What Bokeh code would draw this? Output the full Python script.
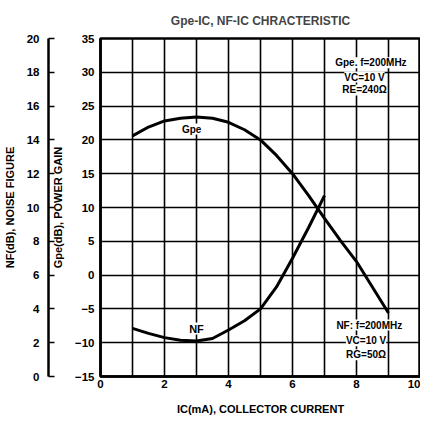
from bokeh.plotting import figure
from bokeh.models import (LinearAxis, Range1d, FixedTicker, Label, Title)
from bokeh.embed import file_html
from bokeh.resources import INLINE

# ---- data ----
ic_gpe = [1, 1.5, 2, 2.5, 3, 3.5, 4, 4.5, 5, 5.5, 6, 6.5, 7, 7.5, 8, 8.5, 9]
gpe = [20.6, 21.9, 22.8, 23.2, 23.4, 23.2, 22.6, 21.5, 20.0, 17.7, 15.0,
       11.8, 8.4, 5.1, 2.0, -1.8, -5.6]
ic_nf = [1, 1.5, 2, 2.5, 3, 3.5, 4, 4.5, 5, 5.5, 6, 6.5, 7]
nf = [2.85, 2.55, 2.3, 2.15, 2.1, 2.25, 2.75, 3.3, 4.0, 5.3, 7.0, 8.8, 10.7]

x_ticks = [0, 2, 4, 6, 8, 10]
x_grid = [0, 1, 2, 3, 4, 5, 6, 7, 8, 9, 10]
gpe_ticks = [-15, -10, -5, 0, 5, 10, 15, 20, 25, 30, 35]
nf_ticks = [0, 2, 4, 6, 8, 10, 12, 14, 16, 18, 20]

FONT = "Liberation Sans"

p = figure(width=420, height=417, output_backend="svg", toolbar_location=None,
           x_range=Range1d(0, 10), y_range=Range1d(-15, 35),
           min_border_left=88, min_border_right=0, min_border_top=10,
           min_border_bottom=40)
p.extra_y_ranges = {"nf": Range1d(0, 20)}

p.title = Title(text="Gpe-IC, NF-IC CHRACTERISTIC", align="center",
                text_font=FONT, text_font_size="12px", text_font_style="bold",
                offset=0, standoff=22)

p.outline_line_color = "black"
p.outline_line_width = 2.5
p.background_fill_color = "white"
p.border_fill_color = "white"

# grids
p.xgrid.ticker = FixedTicker(ticks=x_grid)
p.ygrid.ticker = FixedTicker(ticks=gpe_ticks)
for g in (p.xgrid, p.ygrid):
    g.grid_line_color = "black"
    g.grid_line_width = 1.6

# x axis
xa = p.xaxis[0]
xa.ticker = FixedTicker(ticks=x_ticks)
xa.axis_label = "IC(mA), COLLECTOR CURRENT"
xa.major_tick_in = 0
xa.major_tick_out = 0
xa.minor_tick_in = 0
xa.minor_tick_out = 0
xa.axis_line_width = 2.5
xa.major_label_standoff = 3
xa.axis_label_standoff = 12

# Gpe axis (inner left)
ya = p.yaxis[0]
ya.ticker = FixedTicker(ticks=gpe_ticks)
ya.axis_label = "Gpe(dB), POWER GAIN"
ya.major_tick_in = 0
ya.major_tick_out = 0
ya.minor_tick_in = 0
ya.minor_tick_out = 0
ya.axis_line_width = 2.5
ya.major_label_standoff = 6
ya.axis_label_standoff = 8

# NF axis (outer left)
na = LinearAxis(y_range_name="nf", ticker=FixedTicker(ticks=nf_ticks),
                axis_label="NF(dB), NOISE FIGURE")
na.major_tick_in = 6
na.major_tick_out = 0
na.minor_tick_in = 0
na.minor_tick_out = 0
na.axis_line_width = 2.5
na.major_tick_line_width = 1.5
na.major_label_standoff = 9
na.axis_label_standoff = 8
p.add_layout(na, "left")

for ax in (xa, ya, na):
    ax.major_label_text_font = FONT
    ax.major_label_text_font_size = "11.5px"
    ax.major_label_text_font_style = "bold"
    ax.major_label_text_color = "black"
    ax.axis_label_text_font = FONT
    ax.axis_label_text_font_size = "11px"
    ax.axis_label_text_font_style = "bold"
    ax.axis_label_text_color = "black"
    ax.axis_line_color = "black"
    ax.major_tick_line_color = "black"

# curves
p.line(ic_gpe, gpe, line_color="black", line_width=3)
p.line(ic_nf, nf, y_range_name="nf", line_color="black", line_width=3)

# curve labels
lab_kw = dict(text_font=FONT, text_font_size="10px", text_font_style="bold",
              text_color="black", text_align="center", text_baseline="middle")
p.add_layout(Label(x=2.85, y=21.6, text="Gpe", background_fill_color="white",
                   **lab_kw))
p.add_layout(Label(x=3.0, y=-7.9, text="NF", background_fill_color="white",
                   **dict(lab_kw, text_font_size="11px")))

# condition notes
note_kw = dict(text_font=FONT, text_font_size="10px", text_font_style="bold",
               text_color="black", text_align="center", text_baseline="middle",
               background_fill_color="white")
p.add_layout(Label(x=8.45, y=31.4, text="Gpe. f=200MHz", **note_kw))
p.add_layout(Label(x=8.25, y=29.3, text="VC=10 V", **note_kw))
p.add_layout(Label(x=8.25, y=27.4, text="RE=240Ω", **note_kw))
p.add_layout(Label(x=8.4, y=-7.4, text="NF: f=200MHz", **note_kw))
p.add_layout(Label(x=8.3, y=-9.7, text="VC=10 V", **note_kw))
p.add_layout(Label(x=8.3, y=-11.8, text="RG=50Ω", **note_kw))

open("out.html", "w").write(file_html(p, INLINE))
